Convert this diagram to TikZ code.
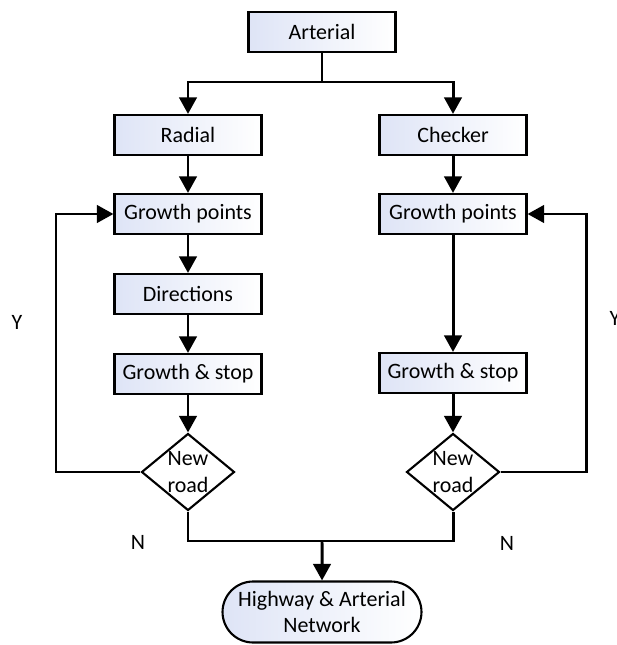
\documentclass[tikz,border=0pt]{standalone}
\usepackage{fontspec}
\setmainfont{Carlito}
\usetikzlibrary{arrows.meta}
\usetikzlibrary{shapes.geometric}
\usetikzlibrary{shapes.misc}
\definecolor{boxblue}{RGB}{222,228,246}
\tikzset{
    stepbox/.style={draw,line width=1.2pt,left color=boxblue,right color=white,
        minimum width=2.94cm,minimum height=0.8cm,inner sep=0pt},
    askbox/.style={draw,diamond,line width=1.2pt,fill=white,aspect=1.2,inner sep=-1pt,
        minimum width=1.86cm,minimum height=1.54cm,align=center},
    endbox/.style={draw,rounded rectangle,line width=1.2pt,left color=boxblue,right color=white,
        minimum width=3.98cm,minimum height=1.22cm,inner sep=0pt,align=center},
    flow/.style={line width=1.7pt}
}
\begin{document}
\begin{tikzpicture}[>={Triangle[length=9.5pt,width=10pt]},x=0.02cm,y=-0.02cm,
    font=\fontsize{12.5}{15}\selectfont]
                \useasboundingbox (0,0) rectangle (616,645);
                % top of the tree
                \node[stepbox] (art) at (322,32) {Arterial};
                \node[stepbox] (rad) at (188,135) {Radial};
                \node[stepbox] (chk) at (453,135) {Checker};
                % left column
                \node[stepbox] (gp1) at (188,214) {Growth points};
                \node[stepbox] (dir) at (188,294) {Directions};
                \node[stepbox] (gs1) at (188,374) {Growth \& stop};
                \node[askbox] (nr1) at (188,472) {New\\road};
                % right column
                \node[stepbox] (gp2) at (453,214) {Growth points};
                \node[stepbox] (gs2) at (453,373) {Growth \& stop};
                \node[askbox] (nr2) at (453,472) {New\\road};
                % result
                \node[endbox] (net) at (322,612) {Highway \& Arterial\\Network};
                \coordinate (split) at (322,82);
                \coordinate (merge) at (322,541);
                \draw[flow] (art) -- (split);
                \draw[flow,->] (split) -| (rad);
                \draw[flow,->] (split) -| (chk);
                \foreach \a/\b in {rad/gp1,gp1/dir,dir/gs1,gs1/nr1,chk/gp2,gp2/gs2,gs2/nr2}
                    \draw[flow,->] (\a) -- (\b);
                % loops back
                \draw[flow,->] (nr1.west) -- (56,472) |- (gp1.west);
                \draw[flow,->] (nr2.east) -- (586,472) |- (gp2.east);
                \draw[flow] (nr1.south) |- (merge) -| (nr2.south);
                \draw[flow,->] (merge) -- (net);
                \node (y1) at (17,322) {Y};
                \node (y2) at (615,318) {Y};
                \node (n1) at (138,542) {N};
                \node (n2) at (507,543) {N};
            \end{tikzpicture}
\end{document}
